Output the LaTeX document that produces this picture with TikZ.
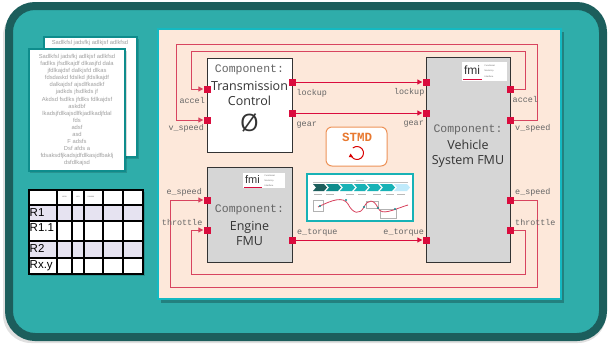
\documentclass[tikz,border=0pt]{standalone}
\usepackage{fontspec}
\setmainfont{Open Sans}
\newfontfamily\monof{Liberation Mono}
\newfontfamily\arialf{Liberation Sans}
\usetikzlibrary{arrows.meta,calc}

\definecolor{frameDark}{HTML}{1C5E5C}
\definecolor{frameTeal}{HTML}{2FADAA}
\definecolor{panelFill}{HTML}{FDE8DA}
\definecolor{panelBorder}{HTML}{14B9C2}
\definecolor{wireRed}{HTML}{DA0C3D}
\definecolor{loopRed}{HTML}{D8445F}
\definecolor{boxGray}{HTML}{D6D6D6}
\definecolor{txtDark}{HTML}{333333}
\definecolor{txtGray}{HTML}{666666}
\definecolor{pageBorder}{HTML}{0E8C8C}
\definecolor{lav}{HTML}{E6E3F1}
\definecolor{stmdOrange}{HTML}{E8782F}
\definecolor{thumbTeal}{HTML}{18B2B6}

\tikzset{
  comp/.style={draw=txtDark, line width=1pt, inner sep=0pt},
  port/.style={fill=wireRed, minimum size=7pt, inner sep=0pt, draw=none},
  plabel/.style={font=\monof\fontsize{8.4}{9}\selectfont, text=txtGray, inner sep=0pt},
  ctype/.style={font=\monof\fontsize{11.5}{12}\selectfont, text=txtGray, inner sep=0pt},
  cname/.style={font=\fontsize{12.5}{15}\selectfont, text=txtDark, inner sep=0pt, align=center},
  wire/.style={draw=wireRed, line width=1pt},
  loopwire/.style={draw=loopRed, line width=1pt},
  tip/.style={-{Triangle[length=5pt,width=5pt]}},
  pagetext/.style={font=\arialf\fontsize{5.8}{7.1}\selectfont, text=gray!75, inner sep=0pt, align=center},
  rowlabel/.style={font=\arialf\fontsize{11.5}{12}\selectfont, anchor=west, inner sep=0pt},
  fmitext/.style={font=\arialf\fontsize{2.2}{2.2}\selectfont, text=txtGray, inner sep=0pt, anchor=west},
}

\begin{document}
\begin{tikzpicture}[x=1pt,y=-1pt]
\useasboundingbox (0,0) rectangle (609,343);

% outer frame with soft shadow
\fill[black, opacity=0.12, rounded corners=28pt] (3,8) rectangle (606,343);
\draw[fill=frameTeal, draw=frameDark, line width=8pt, rounded corners=26pt] (9,6) rectangle (603,337);

% ---------- document pages ----------
\fill[black, opacity=0.15] (45,39) rectangle (139,159);
\draw[fill=white, draw=pageBorder, line width=2.5pt] (44,37) rectangle (137,157);
\node[pagetext] (backline) at (90,43) {Sadlkfsl jadsfkj adlkjsf adlkfsd};
\fill[black, opacity=0.15] (30,51) rectangle (127,173);
\draw[fill=white, draw=pageBorder, line width=2.5pt] (29,49) rectangle (125,171);
\node[pagetext, anchor=north] (doctext) at (77,54) {Sadlkfsl jadsfkj adlkjsf adlkfsd\\
fadlks jfsdlkajdf dlkasjfd dala\\
jfdlkajdsf dalkjsfd dlkas\\
fdsdaskd fdslkd jfdslkajdf\\
dalkajdsf ajsdlfkasdkf\\
jadkds jfsdlkds jf\\
Akdsd fsdlks jfdlks fdlkajdsf\\
askdbf\\
lkadsjfdlkajsdlfkjadlkadjfdal\\
fds\\
adsf\\
asd\\
F adsfs\\
Dsf afds a\\
fdsaksdfjkadsjdfdlkasjdfbaklj\\
dsfdlkajsd};

% ---------- requirements table ----------
\fill[black, opacity=0.15] (31,192) rectangle (145,276);
\fill[white] (29,190) rectangle (143,274);
\fill[lav] (29,205) rectangle (143,221);
\fill[lav] (29,241) rectangle (143,258);
\foreach \x in {57,72,84,103,123} \draw[line width=1.2pt] (\x,190) -- (\x,274);
\foreach \y in {205,221,241,258} \draw[line width=1.2pt] (29,\y) -- (143,\y);
\draw[line width=2pt] (29,190) rectangle (143,274);
\node[font=\arialf\fontsize{2.2}{3}\selectfont, text=txtGray] (h1) at (64.5,197) {xxxx};
\node[font=\arialf\fontsize{2.2}{3}\selectfont, text=txtGray] (h2) at (78,197) {xxx};
\node[font=\arialf\fontsize{2.2}{3}\selectfont, text=txtGray] (h3) at (91,197) {xxxxxx};
\node[rowlabel] (r1) at (29.5,213) {R1};
\node[rowlabel] (r11) at (29.5,227.5) {R1.1};
\node[rowlabel] (r2) at (29.5,248.5) {R2};
\node[rowlabel] (rxy) at (29.5,266) {Rx.y};

% ---------- system panel ----------
\fill[black, opacity=0.25] (161,32) rectangle (564,303);
\draw[fill=panelFill, draw=panelBorder, line width=2pt] (158,29) rectangle (561,299);

% component boxes
\node[comp, fill=white, minimum width=85pt, minimum height=94pt] (tc) at (249.5,105) {};
\node[comp, fill=boxGray, minimum width=85pt, minimum height=95pt] (eng) at (249.5,214.5) {};
\node[comp, fill=boxGray, minimum width=84pt, minimum height=205pt] (veh) at (468,159.5) {};

% fmi logos
\fill[white] (462,62) rectangle (507,81);
\node[font=\arialf\fontsize{12}{12}\selectfont, text=txtDark, inner sep=0pt] (fmiV) at (472,70.5) {fmi};
\draw[wireRed, line width=0.9pt] (463,79) -- (482,79);
\node[fmitext] (fmiV1) at (484.5,65.5) {Functional};
\node[fmitext] (fmiV2) at (484.5,71) {Mock-Up};
\node[fmitext] (fmiV3) at (484.5,76.5) {Interface};
\fill[white] (243,173) rectangle (285,188);
\node[font=\arialf\fontsize{11}{11}\selectfont, text=txtDark, inner sep=0pt] (fmiE) at (252.5,180) {fmi};
\draw[wireRed, line width=0.9pt] (244,187) -- (262,187);
\node[fmitext] (fmiE1) at (264.5,175.5) {Functional};
\node[fmitext] (fmiE2) at (264.5,180.5) {Mock-Up};
\node[fmitext] (fmiE3) at (264.5,185.5) {Interface};

% component texts
\node[ctype] (tcT) at (249.5,70) {Component:};
\node[cname] (tcN) at (249.5,93.5) {Transmission\\Control};
\node[font=\fontsize{24}{24}\selectfont, text=txtDark, inner sep=0pt] (tcS) at (249.5,123) {Ø};
\node[ctype] (engT) at (249.5,210) {Component:};
\node[cname] (engN) at (249.5,233) {Engine\\FMU};
\node[ctype] (vehT) at (468,130) {Component:};
\node[cname] (vehN) at (468,154) {Vehicle\\System FMU};

% ports
\node[port] (tcA) at (207,89) {};
\node[port] (tcV) at (207,120) {};
\node[port] (tcL) at (292,82) {};
\node[port] (tcG) at (292,113) {};
\node[port] (vL) at (426,82) {};
\node[port] (vG) at (426,113) {};
\node[port] (vA) at (510,89) {};
\node[port] (vV) at (510,120) {};
\node[port] (vS) at (510,200) {};
\node[port] (vT) at (510,230) {};
\node[port] (vQ) at (426,240) {};
\node[port] (eS) at (207,200) {};
\node[port] (eT) at (207,230) {};
\node[port] (eQ) at (292,240) {};

% direct connections
\draw[wire, tip] (tcL.east) -- (vL.west);
\draw[wire, tip] (tcG.east) -- (vG.west);
\draw[wire, tip] (eQ.east) -- (vQ.west);

% feedback connections
\draw[loopwire, tip] (vA.east) -- (525.5,89) -- (525.5,51) -- (191.5,51) -- (191.5,89) -- (tcA.west);
\draw[loopwire, tip] (vV.east) -- (537,120) -- (537,44) -- (176.5,44) -- (176.5,120) -- (tcV.west);
\draw[loopwire, tip] (vT.east) -- (525.5,230) -- (525.5,274) -- (191.5,274) -- (191.5,230) -- (eT.west);
\draw[loopwire, tip] (vS.east) -- (537,200) -- (537,287) -- (170,287) -- (170,200) -- (eS.west);

% port labels
\node[plabel, anchor=east] (lA1) at (205,100) {accel};
\node[plabel, anchor=east] (lV1) at (204,128) {v\_speed};
\node[plabel, anchor=west] (lL1) at (296.5,93) {lockup};
\node[plabel, anchor=west] (lG1) at (296.5,125) {gear};
\node[plabel, anchor=east] (lL2) at (424.5,92) {lockup};
\node[plabel, anchor=east] (lG2) at (424,124) {gear};
\node[plabel, anchor=west] (lA2) at (512.5,99) {accel};
\node[plabel, anchor=west] (lV2) at (515,128) {v\_speed};
\node[plabel, anchor=west] (lS2) at (515,192) {e\_speed};
\node[plabel, anchor=west] (lT2) at (515,222) {throttle};
\node[plabel, anchor=east] (lS1) at (202,192) {e\_speed};
\node[plabel, anchor=east] (lT1) at (202.5,222) {throttle};
\node[plabel, anchor=west] (lQ1) at (297,233) {e\_torque};
\node[plabel, anchor=east] (lQ2) at (424,233) {e\_torque};

% STMD badge
\draw[fill=white, draw=stmdOrange!80, line width=1pt, rounded corners=6pt] (326,127) rectangle (387,166);
\node[font=\monof\bfseries\fontsize{12.5}{13}\selectfont, text=stmdOrange, inner sep=0pt] (stmd) at (357,137.5) {STMD};
\draw[red!85!black, line width=1pt, -{Triangle[length=3.5pt,width=4pt]}] ($(357,153)+(-130:6.5)$) arc[start angle=-130, end angle=175, radius=6.5];

% process thumbnail
\draw[fill=white, draw=thumbTeal, line width=2pt] (307,174) rectangle (413,221);
\draw[gray!50, line width=0.3pt] (313,182) -- (408,182);
\node[font=\arialf\fontsize{2}{2}\selectfont, text=gray, inner sep=0pt] (thT) at (360,180.5) {xxxxxxxx};
\foreach \xa/\xb/\col in {313/326/frameDark, 326/340/pageBorder, 340/354/thumbTeal, 354/367/thumbTeal, 367/380/thumbTeal, 380/394/thumbTeal, 394/409/cyan!25}
  \fill[\col] (\xa,184) -- (\xb-2,184) -- (\xb+1,187.5) -- (\xb-2,191) -- (\xa,191) -- (\xa+3,187.5) -- cycle;
\draw[gray!60, line width=0.4pt] (313,200) rectangle (323,211);
\draw[gray!60, line width=0.4pt] (366,201) rectangle (378,208);
\draw[gray!60, line width=0.4pt] (380,209) rectangle (396,218);
\foreach \x in {318,330,350,362,377,390,401} \draw[gray!55, line width=0.3pt] (\x-4,194) -- (\x+4,194);
\draw[loopRed, line width=0.8pt] (318,207) .. controls (332,200) and (343,196) .. (348,204) .. controls (353,214) and (360,215) .. (364,207) .. controls (368,199) and (374,199) .. (378,208) .. controls (382,216) and (392,210) .. (408,205);
\foreach \p in {(320,206),(346,200),(364,207),(378,208),(395,209)} \fill[thumbTeal!80!black] \p circle (1.2pt);
\end{tikzpicture}
\end{document}
